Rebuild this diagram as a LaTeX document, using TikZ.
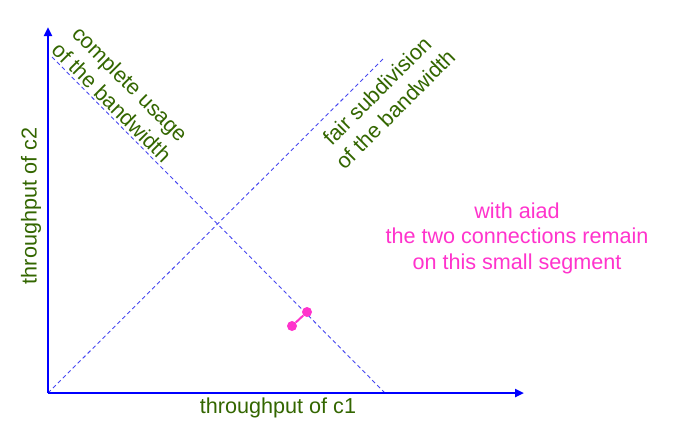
\documentclass[tikz,border=0pt]{standalone}
\usepackage{fontspec}
\setmainfont{Liberation Sans}
\usetikzlibrary{arrows.meta}
\definecolor{axisblue}{RGB}{0,0,255}
\definecolor{dashblue}{RGB}{70,70,240}
\definecolor{txtgreen}{RGB}{51,102,0}
\definecolor{mag}{RGB}{255,51,204}
\tikzset{
  axis/.style={draw=axisblue, line width=2.4pt, -{Triangle[length=9pt,width=8pt]}},
  guide/.style={draw=dashblue, line width=0.9pt, dash pattern=on 4pt off 3pt},
  lbl/.style={text=txtgreen, font=\fontsize{21.6}{26}\selectfont, align=center, inner sep=0pt},
  note/.style={text=mag, font=\fontsize{21.6}{25.5}\selectfont, align=center, inner sep=0pt},
  dot/.style={circle, fill=mag, minimum size=10pt, inner sep=0pt},
}
\begin{document}
\begin{tikzpicture}[x=1pt,y=-1pt]
\useasboundingbox (0,0) rectangle (682,426);
\coordinate (O) at (48,393);
\coordinate (X) at (524,393);
\coordinate (Y) at (48,27);
\coordinate (A) at (52,57);
\coordinate (B) at (385,393);
\coordinate (C) at (385,57);
\draw[guide] (A) -- (B);
\draw[guide] (O) -- (C);
\draw[axis] (O) -- (X);
\draw[axis] (O) -- (Y);
\node[lbl] (xl) at (278,408) {throughput of c1};
\node[lbl, rotate=90] (yl) at (31,206) {throughput of c2};
\node[lbl, rotate=-45] (cu) at (121,93) {complete usage\\of the bandwidth};
\node[lbl, rotate=45] (fs) at (386,100) {fair subdivision\\of the bandwidth};
\node[note] (nt) at (517,238) {with aiad\\the two connections remain\\on this small segment};
\node[dot] (p1) at (292,326) {};
\node[dot] (p2) at (307,312) {};
\draw[mag, line width=2pt] (p1) -- (p2);
\end{tikzpicture}
\end{document}
